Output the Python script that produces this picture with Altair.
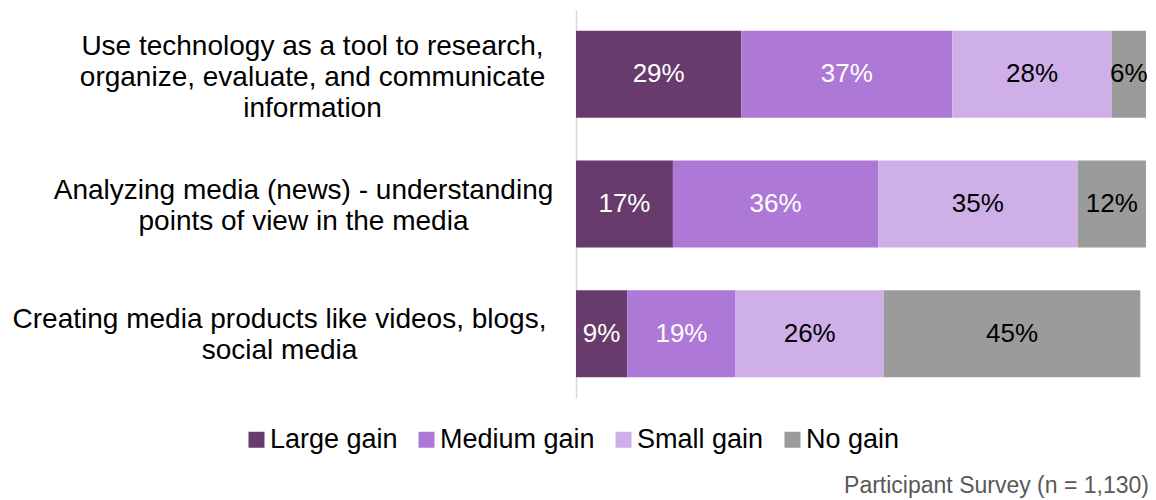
import altair as alt
import pandas as pd

categories = [
    "Use technology as a tool to research,|organize, evaluate, and communicate|information",
    "Analyzing media (news) - understanding|points of view in the media",
    "Creating media products like videos, blogs,|social media",
]
series = ["Large gain", "Medium gain", "Small gain", "No gain"]
large_gain = [29, 17, 9]
medium_gain = [37, 36, 19]
small_gain = [28, 35, 26]
no_gain = [6, 12, 45]
colors = ["#673b6c", "#ad78d6", "#cfafe8", "#9b9b9b"]
source_note = ["Participant Survey (n = 1,130)"]

rows = []
for i, cat in enumerate(categories):
    for k, (s, vals) in enumerate(zip(series, [large_gain, medium_gain, small_gain, no_gain])):
        rows.append({"cat": cat, "series": s, "order": k, "pct": vals[i]})
df = pd.DataFrame(rows)

FONT = "Liberation Sans"

base = alt.Chart(df).transform_stack(
    stack="pct", as_=["x0", "x1"], groupby=["cat"], sort=[alt.SortField("order")]
).transform_calculate(mid="(datum.x0 + datum.x1) / 2", lab="datum.pct + '%'")

y_enc = alt.Y(
    "cat:N",
    sort=categories,
    title=None,
    scale=alt.Scale(paddingInner=0.33, paddingOuter=0.16),
    axis=alt.Axis(
        labelExpr="split(datum.label, '|')",
        labelFont=FONT,
        labelFontSize=28,
        labelColor="#000000",
        labelLineHeight=31,
        labelAlign="center",
        labelBaseline="middle",
        labelLimit=0,
        labelPadding={
            "condition": [
                {"test": "indexof(datum.value, 'Use') === 0", "value": 264},
                {"test": "indexof(datum.value, 'Analyzing') === 0", "value": 273},
            ],
            "value": 297,
        },
        labelOffset={
            "condition": [
                {"test": "indexof(datum.value, 'Use') === 0", "value": -27},
                {"test": "indexof(datum.value, 'Analyzing') === 0", "value": -13},
            ],
            "value": -14,
        },
        ticks=False,
        grid=False,
        domainColor="#d9d9d9",
        domainWidth=1.5,
    ),
)

bars = base.mark_bar(size=87).encode(
    y=y_enc,
    x=alt.X("x0:Q", scale=alt.Scale(domain=[0, 100], nice=False, zero=True), axis=None),
    x2="x1:Q",
    color=alt.Color(
        "series:N",
        sort=series,
        scale=alt.Scale(domain=series, range=colors),
        legend=alt.Legend(
            title=None,
            orient="none",
            direction="horizontal",
            columns=4,
            legendX=-333,
            legendY=416,
            symbolType="square",
            symbolSize=256,
            symbolStrokeWidth=0,
            symbolOpacity=1,
            labelFont=FONT,
            labelFontSize=27,
            labelColor="#000000",
            labelOffset=0,
            columnPadding=15,
            labelLimit=0,
        ),
    ),
)

texts = base.mark_text(font=FONT, fontSize=26, baseline="middle", align="center").encode(
    y=alt.Y("cat:N", sort=categories),
    x=alt.X("mid:Q"),
    text="lab:N",
    color=alt.condition("datum.order < 2", alt.value("#ffffff"), alt.value("#000000")),
)

note = alt.Chart(pd.DataFrame({"t": source_note})).mark_text(
    font=FONT, fontSize=23, color="#595959", align="right", baseline="middle"
).encode(text="t:N", x=alt.value(573), y=alt.value(476))

chart = (
    alt.layer(bars, texts, note)
    .properties(
        width=570,
        height=388,
        autosize=alt.AutoSizeParams(type="none"),
        padding={"left": 576, "top": 10, "right": 10, "bottom": 102},
    )
    .configure_view(stroke=None)
)

chart.save("out.html", embed_options={"renderer": "svg", "actions": False})
